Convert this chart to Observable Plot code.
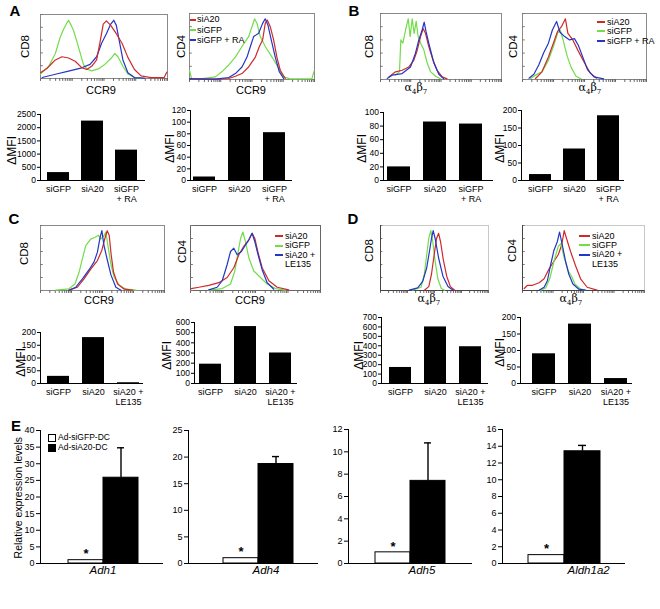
<!DOCTYPE html>
<html><head><meta charset="utf-8">
<script src="https://cdn.jsdelivr.net/npm/d3@7"></script>
<script src="https://cdn.jsdelivr.net/npm/@observablehq/plot@0.6"></script>
<style>
body{margin:0;background:#fff;}
#root{position:relative;width:660px;height:609px;overflow:hidden;font-family:"Liberation Sans",Arial,Helvetica,sans-serif;color:#000;}
.t{position:absolute;white-space:nowrap;line-height:1;}
.v{position:absolute;white-space:nowrap;line-height:1;writing-mode:vertical-rl;transform:rotate(180deg);}
.ln{position:absolute;height:2px;}
</style></head>
<body><div id="root"></div>
<script>
// ---------- DATA ----------
const catsRA = ["siGFP", "siA20", "siGFP\n+ RA"];
const catsLE = ["siGFP", "siA20", "siA20 +\nLE135"];
const mfiA_CD8 = [300, 2250, 1150];
const mfiA_CD4 = [6, 108, 82];
const mfiB_CD8 = [20, 86, 83];
const mfiB_CD4 = [17, 90, 185];
const mfiC_CD8 = [28, 180, 3];
const mfiC_CD4 = [190, 560, 300];
const mfiD_CD8 = [170, 600, 390];
const mfiD_CD4 = [90, 180, 15];
const ticksA_CD8 = [0, 500, 1000, 1500, 2000, 2500];
const ticksA_CD4 = [0, 20, 40, 60, 80, 100, 120];
const ticksB_CD8 = [0, 20, 40, 60, 80, 100];
const ticksB_CD4 = [0, 50, 100, 150, 200];
const ticksC_CD8 = [0, 50, 100, 150, 200];
const ticksC_CD4 = [0, 100, 200, 300, 400, 500, 600];
const ticksD_CD8 = [0, 100, 200, 300, 400, 500, 600, 700];
const ticksD_CD4 = [0, 50, 100, 150, 200];

const exprGroups = ["Ad-siGFP-DC", "Ad-siA20-DC"];
const genes = ["Adh1", "Adh4", "Adh5", "Aldh1a2"];
const exprGFP = [1, 1, 1, 1];
const exprA20 = [25.8, 18.7, 7.4, 13.4];
const errA20 = [9.0, 1.4, 3.4, 0.7];
const exprTicks1 = [0, 5, 10, 15, 20, 25, 30, 35, 40];
const exprTicks2 = [0, 5, 10, 15, 20, 25];
const exprTicks3 = [0, 2, 4, 6, 8, 10, 12];
const exprTicks4 = [0, 2, 4, 6, 8, 10, 12, 14, 16];

// histogram curves: [fluorescence position (0-100), relative count (0-100)]
const aCD8_siA20 = [[0,9],[5.2,16],[11.7,29],[16.9,34],[22.1,32],[27.3,27],[32.5,17],[36.4,14],[40.3,19],[44.2,29],[46.8,56],[49.4,85],[51.9,90],[55.3,83],[59.7,70],[64.2,55],[68.8,33],[74,14],[79.2,4],[87,1.5],[97.4,1.5],[99.5,10]];
const aCD8_siGFP = [[0,7],[6.5,19],[11.7,39],[15.6,65],[18.2,77],[20.8,87],[22.1,91],[24.2,83],[26,75],[28.6,58],[31.2,40],[33.8,22],[36.4,15],[40.3,12],[45.5,15],[50.6,22],[55.8,32],[58.4,39],[61,34],[64.9,19],[68.8,7],[74,1.5],[79.2,0.5]];
const aCD8_siGFPRA = [[1.3,1.5],[11.7,6.6],[22.1,11.6],[32.5,16.7],[39,22],[44.2,34],[48.1,55],[51.9,70],[55.3,85],[57.7,91],[59.7,83],[62.3,56],[64.9,29],[68.8,9],[74,1.5],[81.8,0.5]];
const aCD4_siA20 = [[0,1],[20.7,0.5],[31.4,1.5],[36.7,5],[42,9],[47.3,19],[52.7,34],[55.9,50],[58.5,60],[60.6,85],[62.2,90],[64.6,80],[67.3,60],[69.9,34],[72.6,14],[76.6,1.5]];
const aCD4_siGFP = [[0,14],[1.6,1.5],[10.1,1.5],[20.7,4],[26.1,12],[31.4,22],[36.7,34],[42,50],[47.3,65],[50,80],[52.1,92],[54,85],[56.6,65],[60.6,50],[66,34],[71.3,17],[75.3,4],[80.6,1],[97.9,1],[99.5,12]];
const aCD4_siGFPRA = [[0,1],[20.7,0.5],[31.4,3],[36.7,9],[42,19],[46,34],[48.7,50],[51.3,65],[55.3,70],[58.5,85],[60.6,92],[62.8,82],[65.4,60],[68.6,34],[71.8,12],[75.3,1.5]];
const bCD8_siA20 = [[6.9,4],[12.4,11.6],[17.9,14],[23.4,19],[27.5,29],[30.3,44],[33.1,65],[35.3,77],[37.2,70],[39.9,50],[43.3,30],[46.8,14],[51,4],[55,1]];
const bCD8_siGFP = [[12.4,6.6],[15.7,12],[16.8,60],[18.5,55],[20.7,75],[22.9,92],[24.5,65],[26.2,92],[27.8,70],[29.5,88],[31.1,65],[33.1,55],[35.8,45],[38.6,25],[41.3,12],[45.5,5],[49.6,1]];
const bCD8_siGFPRA = [[5.5,1.5],[9.6,6.6],[17.9,9],[24.8,19],[28.9,40],[31.7,60],[34.4,75],[36.1,87],[37.7,72],[39.9,55],[44.1,25],[48.2,8],[52.3,1]];
const bCD4_siA20 = [[10.5,1.5],[15.7,11.6],[20.9,34],[24.9,55],[28.3,73],[31.4,80],[34.6,92],[36.6,70],[40.6,60],[45,43],[49.2,28],[54.5,10],[59.7,2]];
const bCD4_siGFP = [[6.5,1.5],[10.5,6.6],[15.7,11.6],[20.9,29],[24.9,50],[28.3,70],[30.4,75],[32.7,60],[36.1,35],[39.3,18],[43.2,5],[47.1,1]];
const bCD4_siGFPRA = [[5.2,2],[9.2,8],[13.1,22],[17,40],[20.9,55],[24.1,75],[27.5,88],[30.1,72],[34,65],[38,60],[41.9,62],[45,52],[48.4,35],[52.4,15],[57.6,4],[65.4,1]];
const cCD8_siA20 = [[23,0.5],[29.7,5],[35.1,18],[40.5,33],[45.9,46],[49.5,62],[51.9,80],[53.8,92],[55.4,85],[57,55],[58.9,28],[62.2,10],[67.6,2],[74.3,0.5]];
const cCD8_siGFP = [[12.2,0.5],[23,2.6],[27.8,10],[31.1,28],[33.8,49],[36.5,69],[40.5,79],[44,82],[46.8,85],[48.6,79],[51.4,85],[52.7,90],[54.3,70],[56.8,40],[59.5,20],[63.5,8],[68.9,2],[77,0.5]];
const cCD8_siA20LE = [[23,0.5],[28.4,5],[33.8,18],[39.2,32],[43.2,44],[45.9,59],[48.1,82],[49.5,92],[51.1,70],[53.5,50],[56.8,24],[60.8,5],[64.9,0.5]];
const cCD4_siA20 = [[0.5,3],[6.4,5],[14.1,8],[21.8,12],[28.2,20],[33.3,35],[37.2,55],[41,68],[44.9,78],[47.4,88],[49.5,80],[52,58],[55.1,35],[60.3,15],[66.7,5],[75.6,1]];
const cCD4_siGFP = [[14.1,0.5],[24.4,3],[30.8,10],[34.1,30],[36.7,60],[38.5,80],[40.3,90],[42.3,75],[44.9,50],[48.7,30],[53.8,20],[59,10],[65.4,3],[73.1,0.5]];
const cCD4_siA20LE = [[14.1,1],[20.5,5],[24.4,15],[28.2,40],[30.8,60],[33.3,65],[35.9,55],[39.2,60],[42.3,70],[44.9,78],[47.4,88],[49.5,75],[52,55],[55.1,32],[59,12],[64.1,2]];
const dCD8_siA20 = [[40.6,0.5],[44.7,6],[47.2,25],[49.7,55],[51.9,80],[53.8,88],[55.6,75],[58.1,48],[61.3,22],[64.7,6],[68.8,0.5]];
const dCD8_siGFP = [[29.7,0.5],[37.5,5],[40.6,25],[42.8,55],[44.7,80],[46.6,92],[48.4,75],[50.6,45],[53.1,18],[56.3,3],[59.4,0.5]];
const dCD8_siA20LE = [[26.6,0.5],[34.4,4],[39.1,14],[42.8,35],[45.3,60],[47.2,80],[48.8,92],[50.6,80],[53.8,50],[57.8,22],[62.5,6],[67.2,0.5]];
const dCD4_siA20 = [[1.4,3],[4.1,8],[8.2,8],[13.6,12],[17.7,18],[21.7,33],[25.8,45],[29.3,55],[32.1,70],[34.2,92],[36.1,80],[39.4,60],[43.5,38],[47.6,18],[53,5],[61.1,0.5]];
const dCD4_siGFP = [[14.9,0.5],[19,4],[22.3,18],[25.8,45],[29.3,68],[31.5,72],[34.2,50],[37.5,30],[40.2,22],[42.9,10],[47.6,2],[51.6,0.5]];
const dCD4_siA20LE = [[13.6,0.5],[17.7,5],[20.4,15],[23.1,40],[25.8,62],[28.5,75],[30.4,90],[32.6,70],[35.3,45],[38,25],[41.3,10],[46.2,2],[51.6,0.5]];

const legendRA = ["siA20", "siGFP", "siGFP + RA"];
const legendLE = ["siA20", "siGFP", "siA20 +", "LE135"];

// ---------- STYLE ----------
const FONT = '"Liberation Sans", Arial, Helvetica, sans-serif';
const SERIF = '"DejaVu Serif","Liberation Serif",serif';
const RED = "#cf2a2a", GREEN = "#72dc4a", BLUE = "#2436c4";
const root = document.getElementById("root");
const baseStyle = {background: "transparent", fontFamily: FONT, fontSize: "8.5px", overflow: "visible", color: "#000"};

function place(node, left, top) {
  node.style.position = "absolute";
  node.style.left = left + "px";
  node.style.top = top + "px";
  root.appendChild(node);
}
// text centred (or left-anchored) at x, vertically centred at y; positioned by measurement, no transforms
function txt(html, x, y, o = {}) {
  const d = document.createElement("div");
  d.className = "t";
  d.innerHTML = html;
  d.style.fontSize = (o.size || 11) + "px";
  if (o.bold) d.style.fontWeight = "bold";
  if (o.italic) d.style.fontStyle = "italic";
  if (o.family) d.style.fontFamily = o.family;
  root.appendChild(d);
  const w = d.offsetWidth, h = d.offsetHeight;
  d.style.left = (o.anchor === "start" ? x : x - w / 2) + "px";
  d.style.top = (y - h / 2) + "px";
  return d;
}
// vertical (bottom-to-top) text centred at cx, cy
function rtxt(text, cx, cy, size) {
  const d = document.createElement("div");
  d.className = "v";
  d.textContent = text;
  d.style.fontSize = size + "px";
  root.appendChild(d);
  const w = d.offsetWidth, h = d.offsetHeight;
  d.style.left = (cx - w / 2) + "px";
  d.style.top = (cy - h / 2) + "px";
}
function lineKey(x, y, w, color) {
  const d = document.createElement("div");
  d.className = "ln";
  d.style.left = x + "px"; d.style.top = (y - 1) + "px";
  d.style.width = w + "px"; d.style.background = color;
  root.appendChild(d);
}

// ---------- HISTOGRAMS ----------
const decades = [0, 25, 50, 75];
const minorOffsets = [0, 7.5, 11.9, 15.1, 17.5, 19.5, 21.1, 22.6, 23.9];
const histTicks = decades.flatMap(d => minorOffsets.map(o => d + o)).concat([100]);
const countTicks = [0, 20, 40, 60, 80, 100];

function histo(cfg) {
  const m = 5;
  const w = cfg.x1 - cfg.x0 + 2 * m, h = cfg.y1 - cfg.y0 + 2 * m;
  const marks = [
    Plot.frame({stroke: cfg.frame || "#8a8a8a"}),
    Plot.ruleX(histTicks, {x: d => d, y1: 0, y2: -4.5, stroke: "#666"}),
    Plot.ruleY(countTicks, {y: d => d, x1: 0, x2: 2.2, stroke: "#777"})
  ];
  if (cfg.darkLeft) marks.push(Plot.ruleX([0], {stroke: "#444"}), Plot.ruleY([0], {stroke: "#444"}));
  cfg.curves.forEach(c => marks.push(Plot.line(c.pts, {x: d => d[0], y: d => d[1], stroke: c.color, strokeWidth: 1.2})));
  const svg = Plot.plot({
    width: w, height: h, margin: m,
    x: {domain: [0, 100], axis: null}, y: {domain: [0, 100], axis: null},
    style: baseStyle, marks
  });
  place(svg, cfg.x0 - m, cfg.y0 - m);
}

// ---------- MFI BAR CHARTS ----------
function mfiBars(cfg) {
  const ml = 34, mr = 4, mt = 8, mb = 30;
  const x0 = cfg.ax - ml, y0 = cfg.yTop - mt;
  const w = ml + (cfg.xEnd - cfg.ax) + mr;
  const h = mt + (cfg.yZero - cfg.yTop) + mb;
  const data = cfg.cats.map((c, i) => ({cat: c, v: cfg.values[i]}));
  const svg = Plot.plot({
    width: w, height: h, marginLeft: ml, marginRight: mr, marginTop: mt, marginBottom: mb,
    style: baseStyle,
    x: {type: "band", domain: cfg.cats, range: [cfg.range[0] - x0, cfg.range[1] - x0], paddingInner: 0.36, paddingOuter: 0.18},
    y: {domain: [0, cfg.ticks[cfg.ticks.length - 1]]},
    marks: [
      Plot.barY(data, {x: "cat", y: "v", fill: "#000"}),
      Plot.ruleY([0], {stroke: "#000"}),
      Plot.frame({anchor: "left", stroke: "#000"}),
      Plot.axisY(cfg.ticks, {tickSize: 3, tickPadding: 1.5, label: null, fontSize: 8.5, tickFormat: d => String(d)}),
      Plot.axisX({tickSize: 0, tickPadding: 4, label: null, fontSize: 9, lineHeight: 1.15})
    ]
  });
  place(svg, x0, y0);
}

// ---------- EXPRESSION CHARTS ----------
function exprChart(cfg) {
  const ml = 30, mr = 4, mt = 8, mb = 22;
  const x0 = cfg.ax - ml, y0 = cfg.yTop - mt;
  const w = ml + (cfg.xEnd - cfg.ax) + mr, h = mt + (cfg.yZero - cfg.yTop) + mb;
  const data = exprGroups.map((g, i) => ({g, v: [exprGFP, exprA20][i][cfg.i], e: i === 1 ? errA20[cfg.i] : 0}));
  const black = data.filter(d => d.g === exprGroups[1]);
  const white = data.filter(d => d.g === exprGroups[0]);
  const svg = Plot.plot({
    width: w, height: h, marginLeft: ml, marginRight: mr, marginTop: mt, marginBottom: mb,
    style: baseStyle,
    x: {type: "band", domain: exprGroups, range: [cfg.x0 - x0, cfg.x1 - x0], padding: 0, axis: null},
    y: {domain: [0, cfg.ticks[cfg.ticks.length - 1]]},
    color: {domain: exprGroups, range: ["#fff", "#000"]},
    marks: [
      Plot.ruleX(black, {x: "g", y1: "v", y2: d => d.v + d.e, strokeWidth: 1.4}),
      Plot.tickY(black, {x: "g", y: d => d.v + d.e, insetLeft: 14, insetRight: 14, strokeWidth: 1.4}),
      Plot.barY(data, {x: "g", y: "v", fill: "g", stroke: "#000", strokeWidth: 1}),
      Plot.text(white, {x: "g", y: "v", text: () => "*", dy: -6, fontSize: 13, fontWeight: "bold"}),
      Plot.ruleY([0], {stroke: "#000"}),
      Plot.frame({anchor: "left", stroke: "#000"}),
      Plot.axisY(cfg.ticks, {tickSize: 4, tickPadding: 2, label: null, fontSize: 9, tickFormat: d => String(d)}),
      Plot.text([genes[cfg.i]], {frameAnchor: "bottom-left", dx: cfg.geneX - cfg.ax, dy: 10, fontSize: 11.5, fontStyle: "italic"})
    ]
  });
  place(svg, x0, y0);
}

// ---------- PANEL A ----------
txt("A", 15, 10, {size: 15, bold: true});
histo({x0: 40, x1: 167, y0: 14, y1: 78, curves: [
  {pts: aCD8_siGFP, color: GREEN}, {pts: aCD8_siGFPRA, color: BLUE}, {pts: aCD8_siA20, color: RED}]});
histo({x0: 189, x1: 314, y0: 13, y1: 79, curves: [
  {pts: aCD4_siGFP, color: GREEN}, {pts: aCD4_siA20, color: RED}, {pts: aCD4_siGFPRA, color: BLUE}]});
rtxt("CD8", 26, 46, 11.5); rtxt("CD4", 182, 46, 11.5);
txt("CCR9", 101, 90, {size: 11}); txt("CCR9", 251, 90, {size: 11});
[RED, GREEN, BLUE].forEach((c, i) => { lineKey(190, [19.5, 30, 40][i], 6, c); txt(legendRA[i], 197, [19.5, 30, 40][i], {size: 9, anchor: "start"}); });
mfiBars({ax: 40, xEnd: 145, yTop: 114, yZero: 180, range: [41, 143], cats: catsRA, values: mfiA_CD8, ticks: ticksA_CD8});
mfiBars({ax: 190, xEnd: 292, yTop: 110, yZero: 180, range: [186, 293], cats: catsRA, values: mfiA_CD4, ticks: ticksA_CD4});
rtxt("ΔMFI", 12, 150, 12); rtxt("ΔMFI", 170, 148, 12);

// ---------- PANEL B ----------
const ab = "α<span style='font-size:7px;vertical-align:-3px'>4</span>β<span style='font-size:7px;vertical-align:-3px'>7</span>";
txt("B", 354, 10, {size: 15, bold: true});
histo({x0: 380, x1: 501, y0: 13, y1: 79, curves: [
  {pts: bCD8_siGFP, color: GREEN}, {pts: bCD8_siA20, color: RED}, {pts: bCD8_siGFPRA, color: BLUE}]});
histo({x0: 522, x1: 646, y0: 13, y1: 79, curves: [
  {pts: bCD4_siGFP, color: GREEN}, {pts: bCD4_siA20, color: RED}, {pts: bCD4_siGFPRA, color: BLUE}]});
rtxt("CD8", 370, 46, 11.5); rtxt("CD4", 514, 46, 11.5);
txt(ab, 416, 89, {size: 11, family: SERIF}); txt(ab, 590, 89, {size: 11, family: SERIF});
[RED, GREEN, BLUE].forEach((c, i) => { lineKey(597, [22, 31, 41][i], 8, c); txt(legendRA[i], 607, [22, 31, 41][i], {size: 9, anchor: "start"}); });
mfiBars({ax: 383, xEnd: 493, yTop: 112, yZero: 180, range: [381, 489], cats: catsRA, values: mfiB_CD8, ticks: ticksB_CD8});
mfiBars({ax: 521, xEnd: 624, yTop: 110, yZero: 180, range: [523, 625], cats: catsRA, values: mfiB_CD4, ticks: ticksB_CD4});
rtxt("ΔMFI", 362, 148, 12); rtxt("ΔMFI", 500, 148, 12);

// ---------- PANEL C ----------
txt("C", 14, 218, {size: 15, bold: true});
histo({x0: 40, x1: 164, y0: 225, y1: 290, curves: [
  {pts: cCD8_siGFP, color: GREEN}, {pts: cCD8_siA20, color: RED}, {pts: cCD8_siA20LE, color: BLUE}]});
histo({x0: 190, x1: 320, y0: 225, y1: 290, frame: "#666", curves: [
  {pts: cCD4_siGFP, color: GREEN}, {pts: cCD4_siA20, color: RED}, {pts: cCD4_siA20LE, color: BLUE}]});
rtxt("CD8", 25, 253, 11.5); rtxt("CD4", 183, 251, 11.5);
txt("CCR9", 99, 300, {size: 11}); txt("CCR9", 250, 300, {size: 11});
[RED, GREEN, BLUE, null].forEach((c, i) => { const y = [236, 245.5, 255, 264.5][i]; if (c) lineKey(275, y, 8, c); txt(legendLE[i], 285, y, {size: 9, anchor: "start"}); });
mfiBars({ax: 40, xEnd: 143, yTop: 332, yZero: 383, range: [40, 146], cats: catsLE, values: mfiC_CD8, ticks: ticksC_CD8});
mfiBars({ax: 194, xEnd: 297, yTop: 322, yZero: 383, range: [192, 298], cats: catsLE, values: mfiC_CD4, ticks: ticksC_CD4});
rtxt("ΔMFI", 21, 362, 12); rtxt("ΔMFI", 167, 355, 12);

// ---------- PANEL D ----------
txt("D", 353, 218, {size: 15, bold: true});
histo({x0: 380, x1: 488, y0: 225, y1: 290, frame: "#c8c8c8", darkLeft: true, curves: [
  {pts: dCD8_siGFP, color: GREEN}, {pts: dCD8_siA20, color: RED}, {pts: dCD8_siA20LE, color: BLUE}]});
histo({x0: 522, x1: 644, y0: 225, y1: 290, frame: "#c8c8c8", darkLeft: true, curves: [
  {pts: dCD4_siA20, color: RED}, {pts: dCD4_siGFP, color: GREEN}, {pts: dCD4_siA20LE, color: BLUE}]});
rtxt("CD8", 370, 250, 11.5); rtxt("CD4", 513, 250, 11.5);
txt(ab, 429, 300, {size: 11, family: SERIF}); txt(ab, 571, 300, {size: 11, family: SERIF});
[RED, GREEN, BLUE, null].forEach((c, i) => { const y = [236, 245, 254.5, 264][i]; if (c) lineKey(579, y, 11, c); txt(legendLE[i], 592, y, {size: 9, anchor: "start"}); });
mfiBars({ax: 381, xEnd: 488, yTop: 317, yZero: 383, range: [382, 488], cats: catsLE, values: mfiD_CD8, ticks: ticksD_CD8});
mfiBars({ax: 520, xEnd: 632, yTop: 317, yZero: 383, range: [525, 634], cats: catsLE, values: mfiD_CD4, ticks: ticksD_CD4});
rtxt("ΔMFI", 359, 355, 12); rtxt("ΔMFI", 500, 352, 12);

// ---------- PANEL E ----------
txt("E", 16, 425, {size: 15, bold: true});
exprChart({i: 0, ax: 40, xEnd: 163, yTop: 430, yZero: 563, x0: 67, x1: 138, ticks: exprTicks1, geneX: 89});
exprChart({i: 1, ax: 188, xEnd: 318, yTop: 430, yZero: 563, x0: 223, x1: 293, ticks: exprTicks2, geneX: 252});
exprChart({i: 2, ax: 348, xEnd: 472, yTop: 429, yZero: 563, x0: 374, x1: 445, ticks: exprTicks3, geneX: 408});
exprChart({i: 3, ax: 502, xEnd: 625, yTop: 429, yZero: 563, x0: 528, x1: 600, ticks: exprTicks4, geneX: 567});
rtxt("Relative expression levels", 18, 497, 10.5);
// legend for E
[["#fff", 437], ["#000", 447]].forEach(([fill, y], i) => {
  const s = document.createElement("div");
  s.style.cssText = `position:absolute;left:48px;top:${y - 3.5}px;width:6px;height:6px;border:1px solid #000;background:${fill}`;
  root.appendChild(s);
  txt(exprGroups[i], 58, y, {size: 8.5, anchor: "start"});
});
</script></body></html>
